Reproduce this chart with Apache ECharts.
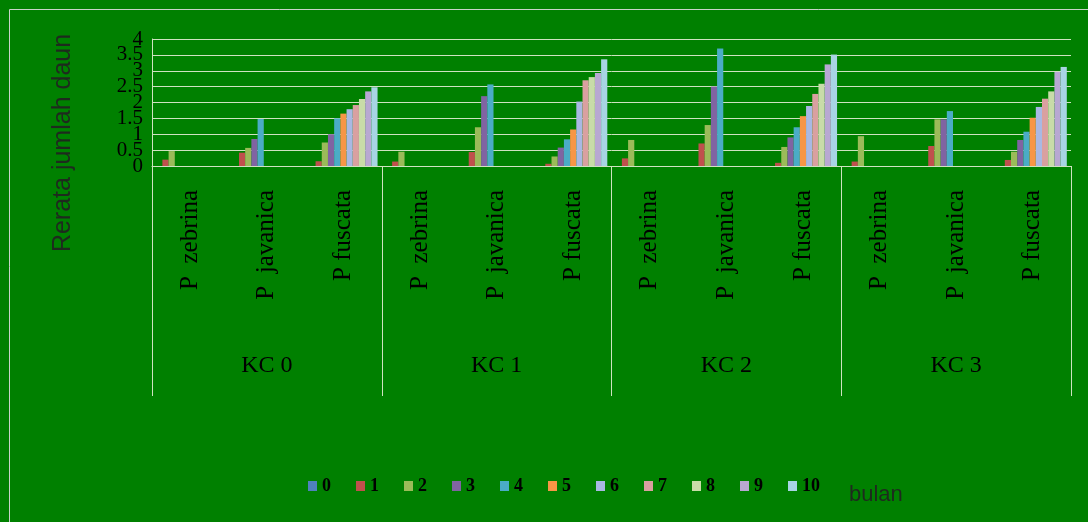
<!DOCTYPE html>
<html>
<head>
<meta charset="utf-8">
<script src="https://cdn.jsdelivr.net/npm/echarts@6/dist/echarts.min.js"></script>
<style>
html,body{margin:0;padding:0;background:#008000;}
#chart{width:1088px;height:522px;}
</style>
</head>
<body>
<div id="chart"></div>
<script>
var species = ['P  zebrina', 'P  javanica', 'P fuscata'];
var groups = ['KC 0', 'KC 1', 'KC 2', 'KC 3'];
var seriesNames = ['0', '1', '2', '3', '4', '5', '6', '7', '8', '9', '10'];
var yTicksWhole = [0, 1, 2, 3, 4];
var yTicksHalf = [0.5, 1.5, 2.5, 3.5];

// values per category: KC0 (zeb, jav, fus), KC1 (...), KC2 (...), KC3 (...)
var s0 = [0, 0, 0, 0, 0, 0, 0, 0, 0, 0, 0, 0];
var s1 = [0.2, 0.42, 0.15, 0.14, 0.44, 0.07, 0.24, 0.71, 0.1, 0.14, 0.63, 0.19];
var s2 = [0.47, 0.57, 0.74, 0.45, 1.22, 0.3, 0.82, 1.29, 0.6, 0.94, 1.47, 0.45];
var s3 = [0, 0.85, 1.0, 0, 2.2, 0.58, 0, 2.5, 0.9, 0, 1.47, 0.82];
var s4 = [0, 1.48, 1.5, 0, 2.57, 0.84, 0, 3.7, 1.22, 0, 1.73, 1.08];
var s5 = [0, 0, 1.65, 0, 0, 1.15, 0, 0, 1.57, 0, 0, 1.52];
var s6 = [0, 0, 1.79, 0, 0, 2.03, 0, 0, 1.89, 0, 0, 1.86];
var s7 = [0, 0, 1.92, 0, 0, 2.7, 0, 0, 2.27, 0, 0, 2.12];
var s8 = [0, 0, 2.11, 0, 0, 2.8, 0, 0, 2.59, 0, 0, 2.35];
var s9 = [0, 0, 2.35, 0, 0, 2.93, 0, 0, 3.2, 0, 0, 2.96];
var s10 = [0, 0, 2.48, 0, 0, 3.36, 0, 0, 3.51, 0, 0, 3.12];

var allValues = [s0, s1, s2, s3, s4, s5, s6, s7, s8, s9, s10];
var colors = ['#4F81BD', '#C0504D', '#9BBB59', '#8064A2', '#4BACC6', '#F79646',
              '#A9B8E3', '#D9A0A0', '#C8DCA8', '#B8A8D2', '#A8D4E4'];

var categories = [];
groups.forEach(function () { species.forEach(function (s) { categories.push(s); }); });

var lightLine = '#cfe3c0';
var serif = '"Liberation Serif", "Times New Roman", serif';
var sans = '"Liberation Sans", Arial, sans-serif';
var yLabelStyle = { margin: 9, fontFamily: serif, fontSize: 21, color: '#000' };

var chart = echarts.init(document.getElementById('chart'));
chart.setOption({
  backgroundColor: '#008000',
  animation: false,
  color: colors,
  grid: { left: 152, right: 17, top: 39, bottom: 356, containLabel: false },
  legend: {
    data: seriesNames,
    left: 303, top: 472,
    icon: 'rect', itemWidth: 9, itemHeight: 10, itemGap: 25,
    textStyle: { fontFamily: serif, fontSize: 18, fontWeight: 'bold', color: '#000' }
  },
  xAxis: [{
    type: 'category',
    data: categories,
    axisLine: { show: true, lineStyle: { color: lightLine, width: 1 } },
    axisTick: { show: false },
    axisLabel: { rotate: 90, margin: 24, interval: 0, fontFamily: serif, fontSize: 25, color: '#000' }
  }, {
    type: 'category',
    data: groups,
    position: 'bottom',
    axisLine: { show: false },
    axisTick: { show: true, length: 230, lineStyle: { color: lightLine, width: 1 } },
    axisLabel: { margin: 188, interval: 0, fontFamily: serif, fontSize: 24, color: '#000' }
  }],
  yAxis: [{
    type: 'value',
    min: 0, max: 4, interval: 0.5,
    position: 'left',
    axisLine: { show: true, lineStyle: { color: lightLine, width: 1 } },
    axisTick: { show: false },
    splitLine: { show: true, lineStyle: { color: lightLine, width: 1 } },
    axisLabel: Object.assign({ customValues: yTicksWhole, showMinLabel: true, showMaxLabel: true }, yLabelStyle)
  }, {
    type: 'value',
    min: 0, max: 4, interval: 0.5,
    position: 'left',
    axisLine: { show: false },
    axisTick: { show: false },
    splitLine: { show: false },
    axisLabel: Object.assign({ customValues: yTicksHalf }, yLabelStyle)
  }],
  series: seriesNames.map(function (n, i) {
    return {
      name: n, type: 'bar', xAxisIndex: 0, yAxisIndex: 0,
      data: allValues[i],
      barWidth: 6.2, barGap: '0%',
      itemStyle: { color: colors[i] }
    };
  }),
  graphic: [
    { type: 'rect', left: 7, top: 7, shape: { width: 1079, height: 530 },
      style: { fill: 'none', stroke: '#c8d4c8', lineWidth: 1 }, silent: true },
    { type: 'text', x: 63, y: 143, rotation: Math.PI / 2,
      style: { text: 'Rerata jumlah daun', fontFamily: sans, fontSize: 25, fill: '#1e2a1e',
               align: 'center', verticalAlign: 'middle' } },
    { type: 'text', x: 849, y: 495,
      style: { text: 'bulan', fontFamily: sans, fontSize: 22, fill: '#1e2a1e',
               align: 'left', verticalAlign: 'middle' } }
  ]
});
</script>
</body>
</html>
